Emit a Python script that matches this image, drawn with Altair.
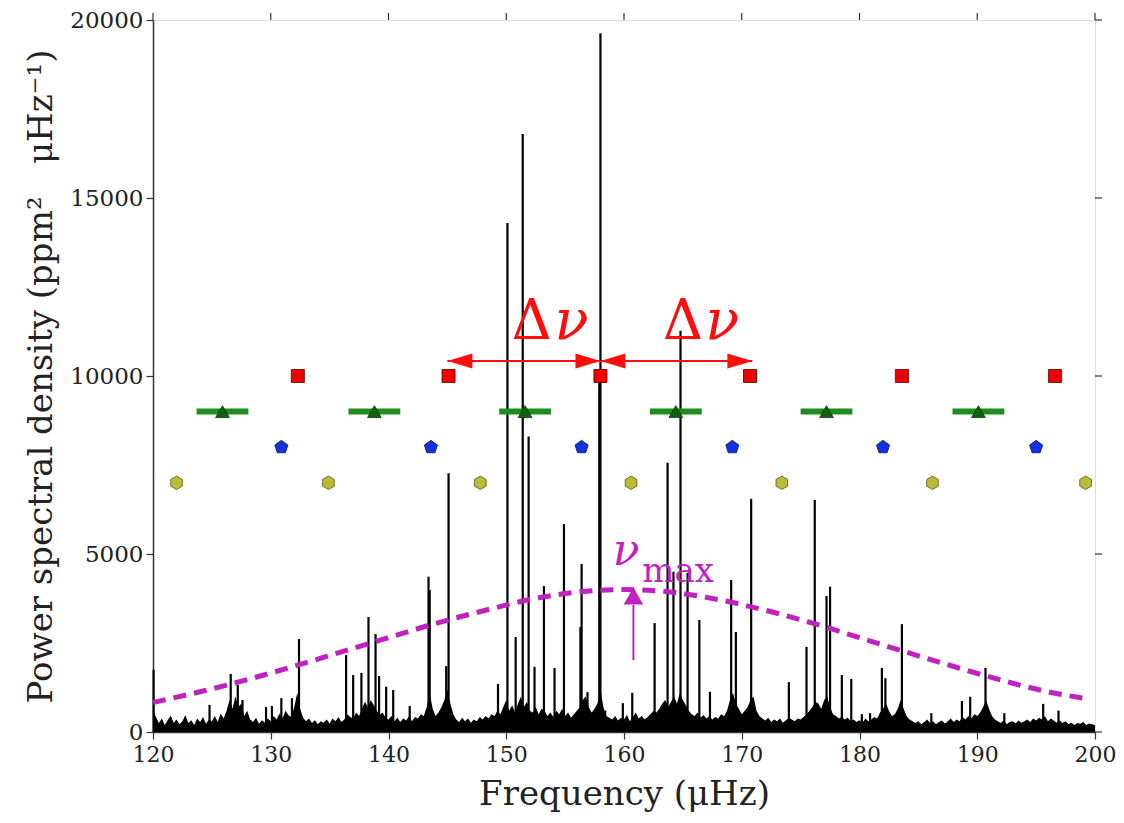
import altair as alt
import pandas as pd

# ---------------- data ----------------
# noise floor of the power spectrum (every 0.25 microHz from 120 to 200)
noise_freq = [120 + 0.25 * i for i in range(321)]
noise_power = [
    600, 420, 250, 380, 200, 330, 460, 260, 350, 220, 300, 480, 250, 330, 200, 380, 280, 420, 230, 350,
    300, 450, 280, 520, 380, 600, 900, 650, 1000, 700, 800, 450, 600, 350, 280, 400, 230, 330, 260, 380,
    300, 450, 350, 520, 380, 600, 480, 420, 700, 1100, 650, 400, 300, 380, 250, 330, 220, 300, 260, 350,
    240, 380, 300, 420, 280, 350, 500, 420, 380, 550, 450, 650, 850, 700, 900, 750, 600, 480, 550, 400,
    350, 450, 300, 400, 280, 380, 320, 450, 300, 420, 380, 500, 450, 700, 1100, 650, 450, 550, 700, 900,
    1200, 800, 500, 350, 280, 400, 300, 380, 260, 350, 300, 420, 350, 450, 380, 500, 450, 600, 500, 700,
    900, 600, 750, 550, 800, 1000, 700, 850, 600, 550, 700, 500, 650, 600, 450, 550, 420, 600, 500, 650,
    450, 550, 400, 500, 600, 700, 900, 1000, 700, 550, 650, 800, 1200, 700, 450, 400, 350, 450, 320, 400,
    350, 480, 300, 420, 550, 380, 450, 350, 420, 500, 600, 550, 650, 800, 900, 700, 850, 1000, 800, 1100,
    900, 750, 600, 500, 450, 550, 400, 480, 380, 450, 350, 420, 380, 500, 450, 600, 900, 1100, 800, 650,
    500, 600, 700, 900, 1000, 600, 450, 380, 320, 400, 280, 350, 300, 380, 260, 330, 400, 350, 300, 380,
    350, 420, 500, 600, 700, 850, 800, 650, 900, 1000, 700, 500, 450, 380, 420, 350, 400, 300, 350, 280,
    330, 260, 380, 300, 350, 420, 380, 550, 650, 800, 600, 450, 500, 650, 900, 650, 450, 350, 300, 250,
    300, 220, 280, 350, 250, 300, 220, 280, 320, 240, 300, 380, 280, 350, 300, 420, 350, 450, 380, 500,
    450, 550, 700, 900, 650, 450, 350, 300, 250, 330, 220, 280, 300, 240, 320, 260, 300, 350, 280, 380,
    320, 400, 350, 450, 300, 380, 320, 260, 330, 250, 300, 220, 260, 200, 250, 230, 280, 200, 240, 220,
    200,
]

# individual peaks (frequency in microHz, power density)
peak_freq = [
    120.05, 124.8, 126.6, 127.2, 127.6, 129.6, 130.1, 130.9, 131.8, 132.4,
    136.4, 137.0, 137.7, 138.3, 138.9, 139.2, 139.8, 140.4, 141.8, 143.4,
    143.5, 144.9, 145.1, 149.3, 150.1, 150.8, 151.4, 151.9, 152.4, 153.2,
    154.1, 154.9, 156.3, 156.4, 156.9, 157.9, 158.0, 158.4, 159.9, 160.7,
    162.6, 163.7, 164.2, 164.8, 165.4, 166.4, 167.3, 169.1, 169.5, 170.8,
    174.0, 175.5, 176.2, 177.2, 177.5, 178.5, 179.3, 180.2, 180.9, 181.9,
    182.2, 183.6, 186.1, 188.7, 189.4, 190.7, 192.3, 195.6, 196.9,
]
peak_power = [
    1750, 760, 1630, 1320, 900, 700, 730, 950, 950, 2610,
    2160, 1600, 1660, 3230, 2750, 1570, 1270, 1180, 730, 4360,
    3990, 1850, 7270, 1350, 14300, 2670, 16800, 8300, 1830, 4100,
    1800, 5840, 2950, 4720, 1120, 9800, 19630, 600, 810, 1100,
    3060, 7560, 4500, 11270, 4470, 3150, 1130, 4270, 2810, 6550,
    1400, 2390, 6520, 3820, 4080, 1600, 1490, 500, 530, 1800,
    1510, 3030, 530, 870, 990, 1800, 530, 790, 600,
]

# Gaussian envelope (nu_max)
env_freq = [120, 124, 128, 132, 136, 140, 144, 148, 152, 156, 160,
            164, 168, 172, 176, 180, 184, 188, 192, 196, 199]
env_power = [830, 1130, 1470, 1850, 2250, 2650, 3050, 3400, 3720, 3930, 4000,
             3930, 3720, 3420, 3060, 2650, 2240, 1840, 1460, 1130, 950]

# mode ridges
l0_freq = [132.3, 145.1, 158.0, 170.7, 183.6, 196.6]          # squares
l1_freq = [125.9, 138.8, 151.6, 164.4, 177.2, 190.1]          # triangles
l1_halfwidth = 2.2
l2_freq = [130.9, 143.6, 156.4, 169.2, 182.0, 195.0]          # pentagons
l3_freq = [122.0, 134.9, 147.8, 160.6, 173.4, 186.2, 199.2]   # hexagons
l0_level, l1_level, l2_level, l3_level = 10000, 9000, 8000, 7000

# Delta nu annotation
dnu_start = [145.0, 158.0]
dnu_end = [158.0, 170.9]
dnu_level = 10420
dnu_delta_x = [150.45, 163.3]
dnu_nu_x = [154.1, 166.9]
dnu_text_level = 11040

# nu_max annotation
numax_x = 160.8
numax_arrow = [2020, 3570]
numax_head = 3820
numax_nu = (159.05, 4690)
numax_sub = (161.55, 4213)

x_ticks = [120, 130, 140, 150, 160, 170, 180, 190, 200]
y_ticks = [0, 5000, 10000, 15000, 20000]

# ---------------- chart ----------------
FONT = "DejaVu Serif"
MAG = "#bf22bf"
RED = "#ff0d0d"
AX = "#333333"

xs = alt.Scale(domain=[120, 200], nice=False, zero=False)
ys = alt.Scale(domain=[0, 20000], nice=False, zero=False)


def X(f, **kw):
    return alt.X(f, type="quantitative", scale=xs, **kw)


def Y(f, **kw):
    return alt.Y(f, type="quantitative", scale=ys, **kw)


noise_df = pd.DataFrame({"f": noise_freq, "p": noise_power})
peaks_df = pd.DataFrame({"f": peak_freq, "p": peak_power, "b": [0] * len(peak_freq)})
env_df = pd.DataFrame({"f": env_freq, "p": env_power})

axis_common = dict(
    grid=False, labelFont=FONT, labelColor="#222", labelFlush=False,
    tickColor=AX, tickSize=7, tickWidth=1.2, domainColor=AX,
    domainWidth=1.5, titleFont=FONT, titleFontSize=34, titleFontWeight="normal",
    titleColor="#222",
)

noise = alt.Chart(noise_df).mark_area(color="black", interpolate="linear").encode(
    x=alt.X("f:Q", scale=xs, axis=alt.Axis(values=x_ticks, title="Frequency (μHz)", labelFontSize=22,
                                         labelPadding=5, titlePadding=12, **axis_common)),
    y=alt.Y("p:Q", scale=ys, axis=alt.Axis(values=y_ticks, format="d", labelFontSize=23,
                                         title="Power spectral density (ppm²\u00a0\u00a0\u00a0μHz⁻¹)",
                                         labelPadding=3, titlePadding=11, **axis_common)),
)

# outward ticks on the top and right frame edges
top_ticks = alt.Chart(pd.DataFrame({"f": x_ticks})).mark_rule(color=AX, strokeWidth=1.2).encode(
    x=X("f"), y=alt.value(0), y2=alt.value(-7))
right_ticks = alt.Chart(pd.DataFrame({"p": y_ticks})).mark_rule(color=AX, strokeWidth=1.2).encode(
    y=Y("p"), x=alt.value(942), x2=alt.value(949))

spikes = alt.Chart(peaks_df).mark_rule(color="black", strokeWidth=2.2).encode(
    x=X("f"), y=Y("b"), y2="p:Q"
)

envelope = alt.Chart(env_df).mark_line(color=MAG, strokeWidth=5, strokeDash=[13, 8],
                                       interpolate="monotone").encode(x=X("f"), y=Y("p"))

numax_line = alt.Chart(pd.DataFrame({"f": [numax_x], "a": [numax_arrow[0]], "b": [numax_arrow[1]]})
                       ).mark_rule(color=MAG, strokeWidth=2).encode(x=X("f"), y=Y("a"), y2="b:Q")
numax_head_m = alt.Chart(pd.DataFrame({"f": [numax_x], "p": [numax_head]})).mark_point(
    shape="triangle-up", filled=True, color=MAG, size=380, opacity=1).encode(x=X("f"), y=Y("p"))
numax_nu_t = alt.Chart(pd.DataFrame({"f": [numax_nu[0]], "p": [numax_nu[1]], "t": ["ν"]})).mark_text(
    font=FONT, fontSize=44, fontStyle="italic", color=MAG, align="left", baseline="alphabetic"
).encode(x=X("f"), y=Y("p"), text="t:N")
numax_sub_t = alt.Chart(pd.DataFrame({"f": [numax_sub[0]], "p": [numax_sub[1]], "t": ["max"]})).mark_text(
    font=FONT, fontSize=34, color=MAG, align="left", baseline="alphabetic"
).encode(x=X("f"), y=Y("p"), text="t:N")

dnu_df = pd.DataFrame({"a": dnu_start, "b": dnu_end, "y": [dnu_level] * 2})
dnu_lines = alt.Chart(dnu_df).mark_rule(color=RED, strokeWidth=2).encode(x=X("a"), x2="b:Q", y=Y("y"))
head_r = alt.Chart(pd.DataFrame({"f": dnu_end, "y": [dnu_level] * 2})).mark_point(
    shape="M0,0L-1,-0.3L-1,0.3Z", filled=True, color=RED, size=2500, opacity=1, strokeWidth=0
).encode(x=X("f"), y=Y("y"))
head_l = alt.Chart(pd.DataFrame({"f": dnu_start, "y": [dnu_level] * 2})).mark_point(
    shape="M0,0L1,-0.3L1,0.3Z", filled=True, color=RED, size=2500, opacity=1, strokeWidth=0
).encode(x=X("f"), y=Y("y"))
dnu_delta = alt.Chart(pd.DataFrame({"f": dnu_delta_x, "y": [dnu_text_level] * 2, "t": ["Δ", "Δ"]})).mark_text(
    font=FONT, fontSize=56, color=RED, align="left", baseline="alphabetic"
).encode(x=X("f"), y=Y("y"), text="t:N")
dnu_nu = alt.Chart(pd.DataFrame({"f": dnu_nu_x, "y": [dnu_text_level] * 2, "t": ["ν", "ν"]})).mark_text(
    font=FONT, fontSize=56, fontStyle="italic", color=RED, align="left", baseline="alphabetic"
).encode(x=X("f"), y=Y("y"), text="t:N")

l1_df = pd.DataFrame({"f": l1_freq, "a": [v - l1_halfwidth for v in l1_freq],
                      "b": [v + l1_halfwidth for v in l1_freq], "y": [l1_level] * len(l1_freq)})
l1_bars = alt.Chart(l1_df).mark_rule(color="#1e8c1e", strokeWidth=6).encode(x=X("a"), x2="b:Q", y=Y("y"))
l1_pts = alt.Chart(l1_df).mark_point(shape="triangle-up", filled=True, fill="#0b640b", stroke="#113311",
                                     strokeWidth=0.8, size=190, opacity=1).encode(x=X("f"), y=Y("y"))
l0_pts = alt.Chart(pd.DataFrame({"f": l0_freq, "y": [l0_level] * len(l0_freq)})).mark_point(
    shape="square", filled=True, fill="#f00000", stroke="#550000", strokeWidth=0.8, size=170, opacity=1
).encode(x=X("f"), y=Y("y"))
PENT = "M0,-1L0.951,-0.309L0.588,0.809L-0.588,0.809L-0.951,-0.309Z"
HEX = "M0,-1L0.866,-0.5L0.866,0.5L0,1L-0.866,0.5L-0.866,-0.5Z"
l2_pts = alt.Chart(pd.DataFrame({"f": l2_freq, "y": [l2_level] * len(l2_freq)})).mark_point(
    shape=PENT, filled=True, fill="#1133dd", stroke="#101060", strokeWidth=0.8, size=190, opacity=1
).encode(x=X("f"), y=Y("y"))
l3_pts = alt.Chart(pd.DataFrame({"f": l3_freq, "y": [l3_level] * len(l3_freq)})).mark_point(
    shape=HEX, filled=True, fill="#bcbb33", stroke="#555522", strokeWidth=0.8, size=180, opacity=1
).encode(x=X("f"), y=Y("y"))

chart = alt.layer(
    noise, top_ticks, right_ticks, spikes, envelope, numax_line, numax_head_m, numax_nu_t, numax_sub_t,
    dnu_lines, head_r, head_l, dnu_delta, dnu_nu,
    l1_bars, l1_pts, l0_pts, l2_pts, l3_pts,
).properties(
    width=942, height=712,
    autosize=alt.AutoSizeParams(type="none"),
    padding={"left": 145, "top": 12, "right": 21, "bottom": 83},
).configure_view(stroke=AX, strokeWidth=1.5).configure(background="white")

chart.save("out.html", embed_options={"renderer": "svg", "actions": False})
